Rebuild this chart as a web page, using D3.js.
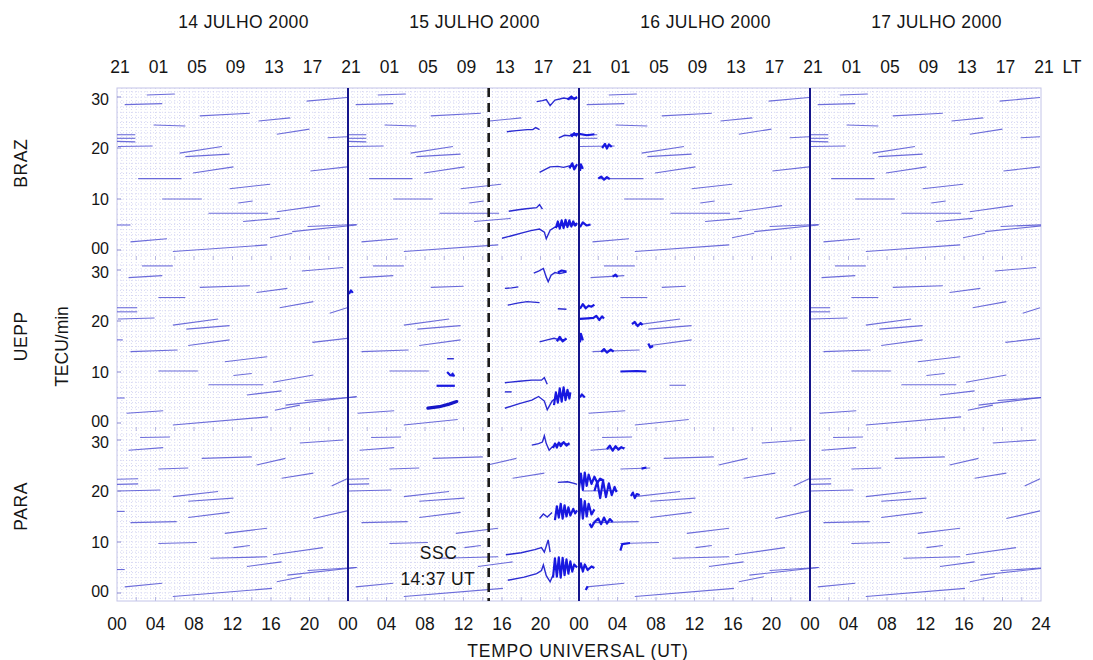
<!DOCTYPE html>
<html><head><meta charset="utf-8">
<script src="https://cdn.jsdelivr.net/npm/d3@7"></script>
<style>
body{margin:0;background:#fff}
svg{display:block}
text{font-family:"Liberation Sans",Arial,sans-serif;fill:#151515}
</style>
</head><body>
<svg id="c" width="1093" height="660"></svg>
<script>
// ---------------- DATA ----------------
const stations = ["BRAZ", "UEPP", "PARA"];
const dayLabels = ["14 JULHO 2000", "15 JULHO 2000", "16 JULHO 2000", "17 JULHO 2000"];
const utTicks = [0,4,8,12,16,20,24,28,32,36,40,44,48,52,56,60,64,68,72,76,80,84,88,92,96];
const utTickLabels = ["00","04","08","12","16","20","00","04","08","12","16","20","00","04","08","12","16","20","00","04","08","12","16","20","24"];
const ltTickLabels = ["21","01","05","09","13","17","21","01","05","09","13","17","21","01","05","09","13","17","21","01","05","09","13","17","21"];
const yTicks = [0, 10, 20, 30];
const yTickLabels = ["00", "10", "20", "30"];
const dayBoundaries = [24, 48, 72];
const sscTime = 38.617;           // 15 July 14:37 UT
const sscText = ["SSC", "14:37 UT"];
const xTitle = "TEMPO UNIVERSAL (UT)";
const yTitle = "TECU/min";

// quiet satellite passes: [start hour of day, end hour, value start, value end, days present]
const brazPasses = [
  [3.1, 6.0, 30.4, 30.6, "1234"], [0.8, 4.7, 28.5, 28.7, "1234"], [8.6, 13.8, 26.3, 26.8, "1234"],
  [14.7, 18.0, 25.3, 25.9, "1234"], [19.7, 23.9, 29.2, 29.9, "134"], [3.8, 7.1, 24.5, 24.3, "1234"],
  [16.6, 20.0, 22.7, 23.7, "134"], [0.0, 1.9, 22.6, 22.6, "1234"], [0.0, 1.9, 21.9, 21.9, "1234"],
  [0.0, 1.9, 21.3, 21.2, "124"], [0.1, 3.7, 20.3, 20.4, "1234"], [21.9, 23.9, 22.0, 22.2, "134"],
  [6.5, 10.9, 19.0, 20.3, "1234"], [7.1, 11.7, 18.3, 18.8, "1234"], [7.9, 12.1, 15.1, 16.3, "1234"],
  [20.1, 23.9, 15.5, 16.3, "134"], [2.2, 6.7, 14.0, 14.0, "1234"], [11.7, 15.9, 12.0, 12.9, "1234"],
  [4.7, 8.8, 10.0, 10.0, "1234"], [12.6, 14.1, 9.2, 9.6, "1234"], [16.6, 21.1, 7.5, 8.7, "134"],
  [9.5, 15.7, 7.2, 7.2, "1234"], [13.1, 16.9, 5.6, 6.2, "1234"], [18.2, 24.9, 3.6, 4.9, "134"],
  [19.8, 24.9, 4.6, 5.0, "134"], [15.9, 18.2, 2.4, 3.3, "134"], [1.4, 5.2, 1.6, 2.2, "1234"],
  [5.8, 15.6, -0.3, 1.0, "1234"], [0.0, 1.4, 4.9, 4.9, "1"]
];
const ueppPasses = [
  [2.6, 5.8, 30.8, 30.8, "1234"], [1.2, 4.7, 28.5, 28.9, "1234"], [8.6, 13.8, 26.6, 26.9, "14"],
  [8.6, 12.0, 26.6, 26.8, "2"], [8.6, 11.1, 26.6, 26.8, "3"], [14.5, 17.7, 25.6, 26.4, "14"],
  [19.2, 23.5, 29.8, 30.5, "14"], [4.3, 7.1, 24.6, 24.6, "134"], [16.9, 20.4, 22.6, 23.8, "14"],
  [0.0, 2.1, 22.6, 22.6, "14"], [0.0, 2.1, 21.8, 21.8, "14"], [0.1, 3.9, 20.4, 20.6, "14"],
  [22.1, 23.9, 21.5, 22.6, "14"], [5.8, 10.5, 19.2, 20.4, "1234"], [7.2, 11.7, 18.4, 19.1, "1234"],
  [7.4, 11.7, 15.2, 16.3, "1234"], [20.3, 23.9, 15.8, 16.6, "14"], [1.4, 6.3, 14.0, 14.3, "1234"],
  [11.2, 15.6, 12.0, 13.0, "14"], [4.3, 8.4, 10.2, 10.2, "124"], [12.1, 14.0, 9.3, 9.7, "14"],
  [16.2, 20.4, 8.0, 9.4, "14"], [9.5, 15.2, 7.5, 7.5, "14"], [9.4, 11.1, 7.4, 7.4, "3"],
  [13.5, 17.1, 5.5, 6.3, "14"], [17.5, 24.9, 3.5, 5.2, "14"], [19.5, 24.9, 4.4, 5.1, "14"],
  [16.4, 19.0, 2.5, 3.5, "14"], [1.0, 4.8, 1.9, 2.4, "1234"], [5.8, 15.7, -0.4, 1.2, "14"],
  [5.8, 11.4, -0.4, 0.7, "23"], [0.0, 0.8, 4.9, 4.9, "1"], [0.0, 0.6, 16.3, 16.3, "1"]
];
const paraPasses = [
  [2.4, 5.5, 30.5, 30.6, "1234"], [1.2, 4.8, 28.0, 28.5, "1234"], [8.8, 14.0, 26.4, 26.7, "1234"],
  [14.5, 17.5, 25.1, 26.4, "1234"], [19.0, 23.5, 29.4, 30.0, "134"], [4.3, 7.4, 24.3, 24.5, "1234"],
  [17.1, 20.4, 22.5, 23.5, "1234"], [0.0, 2.2, 22.3, 22.4, "124"], [0.0, 2.2, 21.3, 21.4, "124"],
  [0.1, 4.5, 20.0, 20.2, "124"], [0.4, 4.0, 20.0, 20.1, "3"], [22.3, 23.9, 21.0, 22.4, "134"],
  [5.8, 10.5, 18.9, 19.9, "1234"], [7.4, 12.1, 18.0, 18.6, "1234"], [7.4, 11.7, 14.8, 15.8, "1234"],
  [20.4, 23.9, 14.6, 16.1, "134"], [1.4, 6.2, 13.8, 14.0, "1234"], [11.2, 15.6, 11.7, 12.7, "1234"],
  [4.3, 8.3, 9.7, 9.9, "1234"], [12.1, 13.8, 8.9, 9.3, "1234"], [16.2, 21.4, 7.5, 8.9, "134"],
  [9.7, 15.6, 6.8, 7.1, "1234"], [13.5, 17.1, 5.2, 6.1, "1234"], [17.7, 24.9, 3.5, 5.0, "134"],
  [19.8, 24.9, 4.4, 5.0, "134"], [16.6, 19.2, 2.2, 3.2, "134"], [0.8, 4.7, 1.2, 1.9, "1234"],
  [5.8, 16.1, -0.7, 0.9, "1234"], [0.0, 0.8, 4.6, 4.6, "1"], [0.0, 0.8, 16.0, 16.0, "1"]
];

// disturbed traces after the SSC: [UT hour from 14 July 00 UT, value]
const brazStorm = [
  [[43.6,29.1],[44.2,29.3],[44.6,29.5],[45.0,28.3],[45.5,29.4],[46.0,29.6],[46.4,29.8],[47.0,29.6],[47.8,29.8]],
  [[40.5,23.2],[41.5,23.4],[42.6,23.6],[43.2,23.6],[43.5,24.0],[43.9,23.6]],
  [[45.9,22.0],[46.5,22.5],[47.0,22.4],[47.8,22.6]],
  [[43.9,15.2],[44.5,15.8],[45.0,16.3],[45.8,16.4],[46.4,16.2],[47.0,16.5],[47.8,16.4]],
  [[40.7,7.6],[41.7,7.9],[42.5,8.1],[43.6,8.3],[43.9,8.9],[44.2,8.0]],
  [[40.0,2.3],[41.0,2.8],[42.2,3.4],[43.0,3.8],[43.9,4.1],[44.4,3.5],[44.6,2.2],[45.0,3.9],[45.5,4.5],[46.0,4.8],[47.0,5.0],[47.8,4.9]]
];
const brazBursts = [
  [[45.6,4.3],[45.8,5.6],[46.0,4.2],[46.2,5.8],[46.4,4.3],[46.6,5.9],[46.8,4.5],[47.0,5.8],[47.2,4.6],[47.4,5.6],[47.6,4.8],[47.8,5.3]],
  [[47.0,16.0],[47.3,17.0],[47.5,15.8],[47.8,16.8]],
  [[47.2,22.2],[47.5,22.9],[47.8,22.3]],
  [[46.8,29.5],[47.2,30.1],[47.5,29.6],[47.8,30.0]],
  [[47.1,22.6],[48.0,22.8],[48.8,22.5],[49.6,22.7]],
  [[50.4,20.0],[50.7,20.8],[50.9,19.9],[51.1,20.7],[51.4,20.2]],
  [[50.0,14.0],[50.3,14.4],[50.6,13.8],[50.9,14.3],[51.2,13.9]],
  [[48.1,15.5],[48.2,16.8],[48.4,15.9]],
  [[48.1,4.5],[48.4,5.4],[48.8,4.8],[49.2,5.0]]
];
const ueppStorm = [
  [[40.3,26.4],[41.0,26.5],[41.7,26.7]],
  [[43.3,29.4],[43.8,29.8],[44.3,30.3],[44.6,28.6],[44.8,27.7],[45.1,29.0],[45.5,29.5],[46.0,29.3],[46.7,29.6]],
  [[40.6,23.1],[41.6,23.5],[42.6,23.8],[43.9,23.6]],
  [[45.8,22.4],[46.7,22.3]],
  [[43.9,15.9],[44.7,16.3],[45.4,16.6],[46.0,16.3],[46.7,16.4]],
  [[34.3,12.6],[35.0,12.6]],
  [[40.3,7.9],[41.8,8.2],[43.1,8.4],[44.1,8.4],[44.4,8.9],[44.7,7.6]],
  [[40.3,6.1],[41.0,6.1]],
  [[40.3,2.9],[41.8,3.8],[43.1,4.5],[43.8,5.2],[44.4,4.3],[44.7,2.6],[45.2,4.3],[45.7,5.0],[46.5,5.6],[47.1,5.6]]
];
const ueppBursts = [
  [[45.4,3.5],[45.6,6.0],[45.8,4.0],[46.0,6.8],[46.2,4.2],[46.4,7.0],[46.6,4.5],[46.8,6.5],[47.0,4.8],[47.1,6.0]],
  [[45.8,29.5],[46.2,29.9],[46.7,29.7]],
  [[45.7,16.0],[46.0,16.9],[46.3,16.0],[46.7,16.6]],
  [[24.1,25.3],[24.3,26.0],[24.5,25.5]],
  [[34.3,10.0],[34.6,9.4],[35.0,9.3],[34.8,9.8]],
  [[48.1,22.4],[48.4,23.3],[48.7,22.5],[49.0,23.0],[49.3,22.8],[49.6,23.2]],
  [[48.1,20.4],[48.9,20.5],[49.5,20.6],[49.8,21.0],[50.1,20.2],[50.4,20.9],[50.6,20.5]],
  [[53.5,19.4],[53.8,19.8],[54.1,19.0],[54.4,19.6],[54.6,19.2]],
  [[55.2,15.6],[55.4,14.8],[55.7,15.1]],
  [[48.1,15.8],[48.2,17.5],[48.4,16.2]],
  [[50.3,13.9],[50.6,14.5],[50.9,13.8],[51.3,14.4],[51.6,14.0]],
  [[48.1,5.0],[48.3,5.6],[48.6,5.0]],
  [[51.5,28.7],[51.8,29.1],[52.0,28.6]],
  [[33.2,7.3],[35.1,7.3]],
  [[52.3,10.1],[54.0,10.2],[55.0,10.1]]
];
const ueppHeavy = [
  [[32.3,2.9],[33.5,3.2],[34.5,3.7],[35.3,4.2]]
];
const paraStorm = [
  [[43.1,29.0],[43.8,29.3],[44.2,29.6],[44.4,30.8],[44.6,29.3],[44.9,28.0],[45.2,28.6],[45.6,29.1],[46.3,29.4],[47.0,29.1]],
  [[45.8,21.7],[46.8,21.8],[47.5,21.5],[47.8,21.3]],
  [[43.9,14.6],[44.3,15.5],[44.7,14.9],[45.2,15.8]],
  [[40.4,7.5],[42.0,7.9],[43.4,8.5],[44.1,8.9],[44.4,8.0],[44.8,10.4],[45.0,8.0]],
  [[40.6,2.5],[42.3,3.1],[43.6,3.8],[44.1,4.4],[44.3,5.5],[44.6,3.4],[45.0,2.2],[45.3,3.5]]
];
const paraBursts = [
  [[45.3,28.4],[45.5,29.3],[45.7,28.5],[45.9,29.5],[46.1,28.8],[46.4,29.6],[46.7,28.9],[47.0,29.4]],
  [[45.5,14.3],[45.7,17.0],[45.9,14.8],[46.1,17.5],[46.3,14.6],[46.5,17.2],[46.7,15.0],[46.9,16.8],[47.1,15.2],[47.4,16.5],[47.6,15.6],[47.8,16.2]],
  [[45.3,3.0],[45.5,6.8],[45.7,3.2],[45.9,7.0],[46.1,3.0],[46.3,6.9],[46.5,3.5],[46.7,6.6],[46.9,3.8],[47.1,6.2],[47.3,4.2],[47.5,5.6],[47.8,5.0]],
  [[48.0,20.5],[48.2,23.4],[48.4,20.2],[48.6,23.6],[48.8,21.0],[49.0,23.2],[49.3,21.4],[49.6,22.8],[49.9,21.6],[50.2,22.4],[50.6,22.0]],
  [[49.6,20.0],[49.9,21.8],[50.2,18.6],[50.5,22.0],[50.8,18.8],[51.1,21.5],[51.4,19.2],[51.7,20.8],[51.9,19.8]],
  [[48.0,14.2],[48.2,18.4],[48.4,14.6],[48.6,18.0],[48.8,15.0],[49.0,17.5],[49.3,15.4],[49.6,16.4]],
  [[49.1,13.6],[49.3,12.9],[49.6,13.9],[50.0,14.6],[50.3,13.5],[50.6,14.8],[50.9,13.6],[51.2,14.5],[51.5,13.9]],
  [[50.9,28.2],[51.2,28.9],[51.5,27.9],[51.8,28.8],[52.1,28.1],[52.4,28.6],[52.7,28.3]],
  [[53.4,19.0],[53.6,19.7],[53.8,18.6],[54.0,19.4],[54.3,19.2]],
  [[52.3,8.3],[52.5,9.6],[53.3,9.8]],
  [[48.0,4.6],[48.2,5.8],[48.4,4.2],[48.6,5.6],[48.9,4.5],[49.3,5.2],[49.6,4.9]],
  [[48.7,0.6],[48.9,1.3]],
  [[54.5,24.4],[55.0,24.6]]
];

const quietByStation = [brazPasses, ueppPasses, paraPasses];
const stormByStation = [brazStorm, ueppStorm, paraStorm];
const burstsByStation = [brazBursts, ueppBursts, paraBursts];
const heavyByStation = [[], ueppHeavy, []];

// ---------------- LAYOUT ----------------
const svg = d3.select("#c");
const L = 117, R = 1041, T = 88, B = 601;
const x = d3.scaleLinear().domain([0, 96]).range([L, R]);
const zeroY = [250, 423, 593];
const panelTop = [T, 260, 431];
const panelBot = [260, 431, B];
const ys = zeroY.map(z => d3.scaleLinear().domain([0, 30]).range([z, z - 153]));

svg.append("defs").append("clipPath").attr("id", "pc")
  .append("rect").attr("x", L).attr("y", T).attr("width", R - L).attr("height", B - T);

// grid
const grid = svg.append("g");
grid.selectAll("line.v").data(d3.range(0.5, 96, 0.5)).join("line")
  .attr("x1", d => x(d)).attr("x2", d => x(d)).attr("y1", T).attr("y2", B)
  .attr("stroke", "#cdcef0").attr("stroke-width", 0.8).attr("stroke-dasharray", "1,2");
ys.forEach((y, i) => {
  const vals = d3.range(-2, 34).filter(v => y(v) > panelTop[i] + 1 && y(v) < panelBot[i] - 1);
  grid.selectAll(null).data(vals).join("line")
    .attr("x1", L).attr("x2", R).attr("y1", d => y(d)).attr("y2", d => y(d))
    .attr("stroke", "#cdcef0").attr("stroke-width", 0.8).attr("stroke-dasharray", "1,2");
  grid.selectAll(null).data(d3.range(2, 96, 2)).join("line")
    .attr("x1", d => x(d)).attr("x2", d => x(d)).attr("y1", panelBot[i] - 4).attr("y2", panelBot[i])
    .attr("stroke", "#a8a8dc").attr("stroke-width", 0.8);
});
svg.append("rect").attr("x", L).attr("y", T).attr("width", R - L).attr("height", B - T)
  .attr("fill", "none").attr("stroke", "#c3c4e8").attr("stroke-width", 1);

// traces
const tr = svg.append("g").attr("clip-path", "url(#pc)");
quietByStation.forEach((passes, i) => {
  const y = ys[i];
  const segs = [];
  passes.forEach(p => p[4].split("").forEach(dch => {
    const off = (+dch - 1) * 24;
    segs.push([[p[0] + off, p[2]], [p[1] + off, p[3]]]);
  }));
  const line = d3.line().x(d => x(d[0])).y(d => y(d[1]));
  tr.selectAll(null).data(segs).join("path").attr("d", line)
    .attr("fill", "none").attr("stroke", "#5252d4").attr("stroke-width", 1.1).attr("stroke-opacity", 0.85);
  tr.selectAll(null).data(stormByStation[i]).join("path").attr("d", line)
    .attr("fill", "none").attr("stroke", "#2a2ad2").attr("stroke-width", 1.4);
  tr.selectAll(null).data(burstsByStation[i]).join("path").attr("d", line)
    .attr("fill", "none").attr("stroke", "#1818e0").attr("stroke-width", 2.2).attr("stroke-linejoin", "round");
  tr.selectAll(null).data(heavyByStation[i]).join("path").attr("d", line)
    .attr("fill", "none").attr("stroke", "#1515c8").attr("stroke-width", 3.2).attr("stroke-linecap", "round");
});

// day boundaries and SSC line
svg.selectAll("line.day").data(dayBoundaries).join("line")
  .attr("x1", d => x(d)).attr("x2", d => x(d)).attr("y1", T).attr("y2", B)
  .attr("stroke", "#16168c").attr("stroke-width", 2);
svg.append("line").attr("x1", x(sscTime)).attr("x2", x(sscTime)).attr("y1", T).attr("y2", B)
  .attr("stroke", "#1b1b1b").attr("stroke-width", 2.6).attr("stroke-dasharray", "9,6");

const fs = 17.5;
// SSC label
svg.append("text").attr("x", x(sscTime) - 50).attr("y", 559).attr("text-anchor", "middle")
  .attr("font-size", fs).attr("letter-spacing", 0.6).text(sscText[0]);
svg.append("text").attr("x", x(sscTime) - 51).attr("y", 585).attr("text-anchor", "middle")
  .attr("font-size", fs).attr("letter-spacing", 0.3).text(sscText[1]);

// bottom axis (UT)
svg.selectAll("text.ut").data(utTicks).join("text")
  .attr("x", d => x(d)).attr("y", 630).attr("text-anchor", "middle").attr("font-size", fs)
  .text((d, i) => utTickLabels[i]);
svg.append("text").attr("x", 578).attr("y", 657).attr("text-anchor", "middle").attr("font-size", fs)
  .attr("letter-spacing", 0.8).text(xTitle);

// top axis (LT)
svg.selectAll("text.lt").data(utTicks).join("text")
  .attr("x", d => x(d) + 3).attr("y", 73).attr("text-anchor", "middle").attr("font-size", fs)
  .text((d, i) => ltTickLabels[i]);
svg.append("text").attr("x", 1072).attr("y", 73).attr("text-anchor", "middle").attr("font-size", fs).text("LT");
svg.selectAll("text.day").data(dayLabels).join("text")
  .attr("x", (d, i) => x(i * 24 + 12) + 11).attr("y", 28).attr("text-anchor", "middle")
  .attr("font-size", fs).attr("letter-spacing", 0.4).text(d => d);

// left axes
const yfs = 16;
ys.forEach((y, i) => {
  svg.selectAll(null).data(yTicks).join("text")
    .attr("x", 109).attr("y", d => y(d) + (d === 0 ? -2 : d === 30 ? 2 : 0)).attr("dy", "0.36em")
    .attr("text-anchor", "end").attr("font-size", yfs).text((d, k) => yTickLabels[k]);
  svg.selectAll(null).data(yTicks).join("line")
    .attr("x1", L).attr("x2", L + 4).attr("y1", d => y(d)).attr("y2", d => y(d))
    .attr("stroke", "#8c8cd0").attr("stroke-width", 1);
  svg.append("text").attr("transform", `translate(27,${y(17)}) rotate(-90)`)
    .attr("text-anchor", "middle").attr("font-size", fs).attr("letter-spacing", 0.6).text(stations[i]);
});
svg.append("text").attr("transform", `translate(68,${ys[1](15)}) rotate(-90)`)
  .attr("text-anchor", "middle").attr("font-size", fs).text(yTitle);
</script>
</body></html>
